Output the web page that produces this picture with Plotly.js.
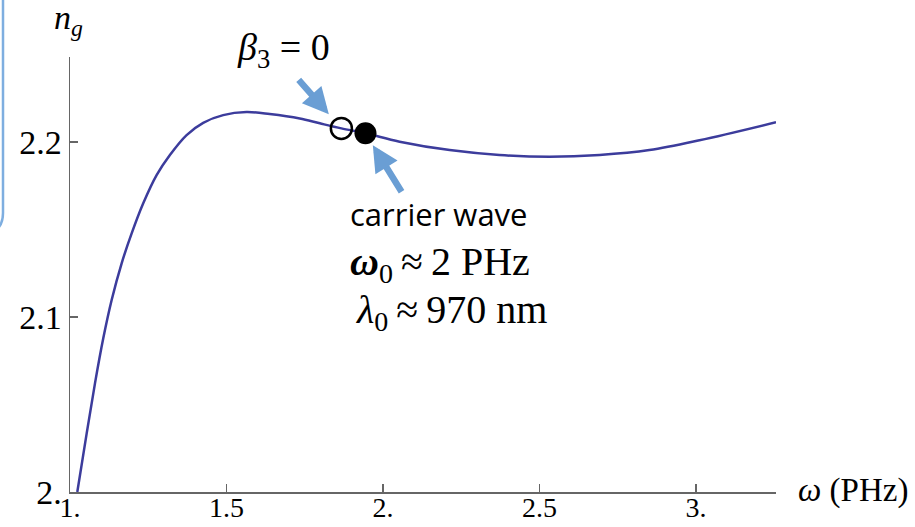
<!DOCTYPE html>
<html>
<head>
<meta charset="utf-8">
<script src="https://cdn.plot.ly/plotly-3.0.1.min.js"></script>
<style>html,body{margin:0;padding:0;background:#fff;}#chart{width:915px;height:527px;}</style>
</head>
<body>
<div id="chart"></div>
<script>
// Group index curve n_g(omega)
const omega = [1.0233, 1.0533, 1.0798, 1.1063, 1.1331, 1.165, 1.197, 1.234, 1.2767, 1.3192, 1.3725, 1.4255, 1.4893, 1.564, 1.638, 1.734, 1.798, 1.867, 1.944, 2.053, 2.213, 2.372, 2.532, 2.692, 2.851, 3.011, 3.2555];
const ng    = [2.0000, 2.0335, 2.0621, 2.0878, 2.1097, 2.1307, 2.1478, 2.1650, 2.1811, 2.1926, 2.2040, 2.2110, 2.2154, 2.2171, 2.2160, 2.2135, 2.2107, 2.2078, 2.2050, 2.2002, 2.1954, 2.1926, 2.1916, 2.1926, 2.1954, 2.2010, 2.2113];
// beta_3 = 0 point (open) and carrier wave point (filled)
const beta3X = [1.867], beta3Y = [2.2078];
const carrierX = [1.944], carrierY = [2.2050];
// ticks
const xTickVals = [1, 1.5, 2, 2.5, 3];
const xTickText = ["1.", "1.5", "2.", "2.5", "3."];
const yTickVals = [2.0, 2.1, 2.2];
const yTickText = ["2.", "2.1", "2.2"];

const W = 915, H = 527;
const mL = 70, mR = 139, mT = 57, mB = 35;
const pw = W - mL - mR, ph = H - mT - mB;
const px = v => (v - mL) / pw;
const py = v => (H - mB - v) / ph;

const serif = "Liberation Serif, Times New Roman, serif";
const arrowColor = "#6a9ed4";

const traces = [
  {x: omega, y: ng, mode: "lines", line: {color: "#3c3c9c", width: 2.5, shape: "spline", smoothing: 1.0}, hoverinfo: "skip", cliponaxis: true},
  {x: beta3X, y: beta3Y, mode: "markers", marker: {symbol: "circle-open", size: 21, color: "#000", line: {width: 2.5, color: "#000"}}},
  {x: carrierX, y: carrierY, mode: "markers", marker: {symbol: "circle", size: 22, color: "#000"}}
];

const layout = {
  width: W, height: H,
  margin: {l: mL, r: mR, t: mT, b: mB, pad: 0},
  paper_bgcolor: "#fff", plot_bgcolor: "#fff",
  showlegend: false,
  font: {family: serif, color: "#000"},
  xaxis: {
    range: [1, 3.2555], showgrid: false, zeroline: false,
    showline: true, linecolor: "#666", linewidth: 1.5,
    ticks: "inside", ticklen: 8, tickwidth: 1.2, tickcolor: "#666",
    tickvals: xTickVals, ticktext: xTickText,
    ticklabelstandoff: -10,
    tickfont: {family: serif, size: 28, color: "#000"}
  },
  yaxis: {
    range: [2.0, 2.2486], showgrid: false, zeroline: false,
    showline: true, linecolor: "#666", linewidth: 1.5,
    ticks: "inside", ticklen: 8, tickwidth: 1.2, tickcolor: "#666",
    tickvals: yTickVals, ticktext: yTickText,
    tickfont: {family: serif, size: 34, color: "#000"}
  },
  annotations: [
    {xref: "paper", yref: "paper", x: px(68), y: py(20), text: "<i>n</i><sub><i>g</i></sub>", showarrow: false, font: {family: serif, size: 34}, xanchor: "center", yanchor: "middle"},
    {xref: "paper", yref: "paper", x: px(853), y: py(490), text: "<i>ω</i> (PHz)", showarrow: false, font: {family: serif, size: 33}, xanchor: "center", yanchor: "middle"},
    {xref: "paper", yref: "paper", x: px(283), y: py(50), text: "<i>β</i><sub>3</sub> = 0", showarrow: false, font: {family: serif, size: 38}, xanchor: "center", yanchor: "middle"},
    {xref: "paper", yref: "paper", x: px(439), y: py(214), text: "carrier wave", showarrow: false, font: {family: "Open Sans, Noto Sans, sans-serif", size: 31}, xanchor: "center", yanchor: "middle"},
    {xref: "paper", yref: "paper", x: px(440), y: py(264), text: "<i><b>ω</b></i><sub>0</sub>\u2009≈\u20092 PHz", showarrow: false, font: {family: serif, size: 40}, xanchor: "center", yanchor: "middle"},
    {xref: "paper", yref: "paper", x: px(451), y: py(312), text: "<i>λ</i><sub>0</sub>\u2009≈\u2009970 nm", showarrow: false, font: {family: serif, size: 40}, xanchor: "center", yanchor: "middle"},
    {x: beta3X[0], y: beta3Y[0], xref: "x", yref: "y", text: "", showarrow: true, ax: -44, ay: -50, standoff: 19, arrowhead: 2, arrowsize: 0.8, arrowwidth: 6.5, arrowcolor: arrowColor},
    {x: carrierX[0], y: carrierY[0], xref: "x", yref: "y", text: "", showarrow: true, ax: 37, ay: 60, standoff: 14, arrowhead: 2, arrowsize: 0.8, arrowwidth: 6.5, arrowcolor: arrowColor}
  ],
  shapes: [
    {type: "path", xref: "paper", yref: "paper", layer: "above",
     path: "M " + px(3) + "," + py(-5) + " L " + px(3) + "," + py(213) + " Q " + px(3) + "," + py(233) + " " + px(-17) + "," + py(233),
     line: {color: "#7eaee0", width: 2.5}}
  ]
};

Plotly.newPlot("chart", traces, layout, {displayModeBar: false, staticPlot: true});
</script>
</body>
</html>
